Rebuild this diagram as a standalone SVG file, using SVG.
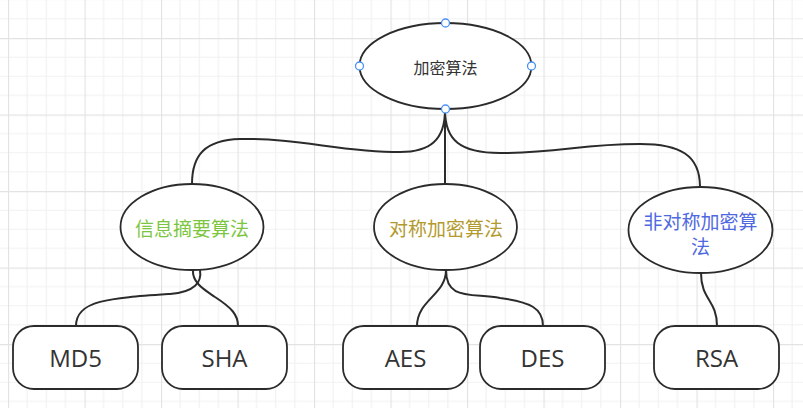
<svg xmlns="http://www.w3.org/2000/svg" width="803" height="408" viewBox="0 0 803 408">
<defs>
<pattern id="grid" patternUnits="userSpaceOnUse" x="8" y="38" width="76.5" height="76.5">
<path d="M19.125,0V76.5M38.25,0V76.5M57.375,0V76.5M0,19.125H76.5M0,38.25H76.5M0,57.375H76.5" stroke="#f1f1f1" stroke-width="1.2" fill="none"/>
<path d="M0.5,0V76.5M0,0.5H76.5" stroke="#e3e3e3" stroke-width="1.3" fill="none"/>
</pattern>
<style>
.shape{fill:#fff;stroke:#2b2b2b;stroke-width:1.8}
.conn{fill:none;stroke:#2b2b2b;stroke-width:2}
.cjk{font-family:"Noto Sans CJK SC","Noto Sans",sans-serif;text-anchor:middle;dominant-baseline:central}
.leaf{font-family:"Open Sans","Noto Sans",sans-serif;font-size:24px;fill:#333;text-anchor:middle;dominant-baseline:central}
.handle{fill:#fff;stroke:#4a92f5;stroke-width:1.3}
</style>
</defs>
<rect width="803" height="408" fill="#fff"/>
<rect width="803" height="408" fill="url(#grid)"/>
<g id="connectors">
<path class="conn" d="M445,110 C445,140 430,152 400,152 C340,152 300,138 240,139 C205,140 192,155 192,184"/>
<path class="conn" d="M445,110 L445,184"/>
<path class="conn" d="M445,110 C445,140 460,153 500,153 C560,153 580,144 640,144 C680,144 700,155 700,187"/>
<path class="conn" d="M200,270 C202,282 195,292 170,294 C110,298 76,300 76,326"/>
<path class="conn" d="M193,270 C192,283 205,290 215,297 C232,308 238,315 238,326"/>
<path class="conn" d="M446,270 C446,295 417,300 417,326"/>
<path class="conn" d="M446,270 C446,300 470,293 500,298 C530,302 543,308 543,326"/>
<path class="conn" d="M701,273 C701,300 717,300 717,326"/>
</g>
<g id="root">
<ellipse class="shape" cx="445.5" cy="66" rx="86" ry="43"/>
<text class="cjk" x="445.5" y="67" font-size="16" fill="#333">加密算法</text>
<circle class="handle" cx="445.5" cy="23" r="4"/>
<circle class="handle" cx="359.5" cy="66" r="4"/>
<circle class="handle" cx="531.5" cy="66" r="4"/>
<circle class="handle" cx="445.5" cy="109" r="4"/>
</g>
<g id="digest">
<ellipse class="shape" cx="192" cy="227" rx="71.5" ry="43"/>
<text class="cjk" x="192" y="227" font-size="19" fill="#7cc63f">信息摘要算法</text>
</g>
<g id="symmetric">
<ellipse class="shape" cx="445.5" cy="227" rx="71.5" ry="43"/>
<text class="cjk" x="446" y="227" font-size="19" fill="#b39a2e">对称加密算法</text>
</g>
<g id="asymmetric">
<ellipse class="shape" cx="700.5" cy="230" rx="72" ry="43"/>
<text class="cjk" font-size="19" fill="#4f69e0"><tspan x="700.5" y="220">非对称加密算</tspan><tspan x="700.5" y="245">法</tspan></text>
</g>
<g id="md5">
<rect class="shape" x="13" y="326" width="125" height="63" rx="21"/>
<text class="leaf" x="75.5" y="357">MD5</text>
</g>
<g id="sha">
<rect class="shape" x="162" y="326" width="125" height="63" rx="21"/>
<text class="leaf" x="224.5" y="357">SHA</text>
</g>
<g id="aes">
<rect class="shape" x="343" y="326" width="125" height="63" rx="21"/>
<text class="leaf" x="405.5" y="357">AES</text>
</g>
<g id="des">
<rect class="shape" x="480" y="326" width="125" height="63" rx="21"/>
<text class="leaf" x="542.5" y="357">DES</text>
</g>
<g id="rsa">
<rect class="shape" x="654" y="326" width="125" height="63" rx="21"/>
<text class="leaf" x="716.5" y="357">RSA</text>
</g>
</svg>
